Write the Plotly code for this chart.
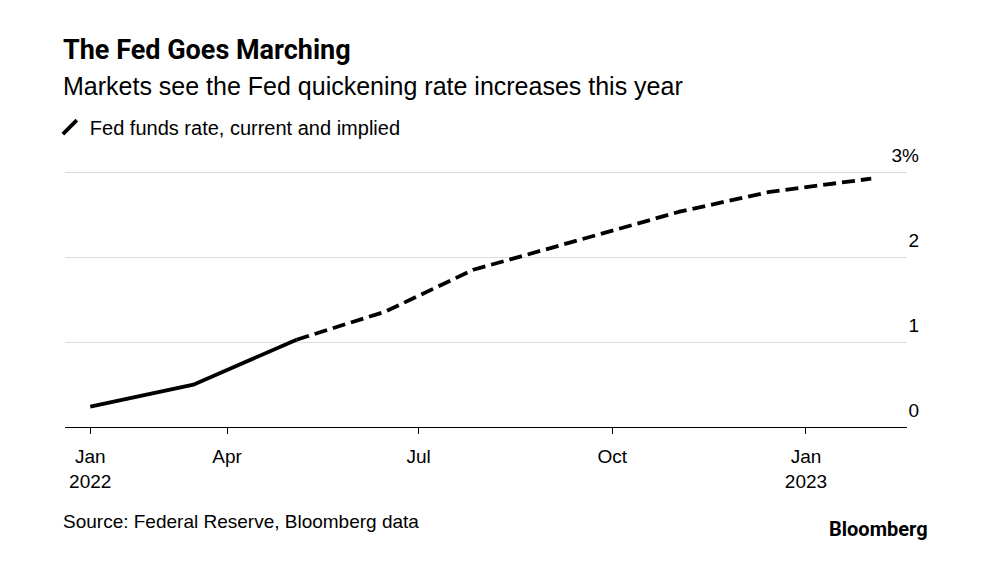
import plotly.graph_objects as go

# ---- data ----
meeting_dates = ["2022-01-26", "2022-03-16", "2022-05-04", "2022-06-15", "2022-07-27",
                 "2022-09-21", "2022-11-02", "2022-12-14", "2023-02-01"]
rate_pct = [0.24, 0.50, 1.03, 1.36, 1.855, 2.24, 2.54, 2.77, 2.93]
is_implied = [False, False, False, True, True, True, True, True, True]

x_tick_vals = ["2022-01-26", "2022-04-01", "2022-07-01", "2022-10-01", "2023-01-01"]
x_tick_text = ["Jan<br>2022", "Apr", "Jul", "Oct", "Jan<br>2023"]
y_tick_vals = [0, 1, 2, 3]
y_tick_text = ["0", "1", "2", "3%"]

title = "The Fed Goes Marching"
subtitle = "Markets see the Fed quickening rate increases this year"
legend_label = "Fed funds rate, current and implied"
source = "Source: Federal Reserve, Bloomberg data"

# split into current (solid) and implied (dashed); share the boundary point
last_current = max(i for i, f in enumerate(is_implied) if not f)
cur_x = meeting_dates[: last_current + 1]
cur_y = rate_pct[: last_current + 1]
imp_x = meeting_dates[last_current:]
imp_y = rate_pct[last_current:]

FONT = "Liberation Sans, Arial, sans-serif"

fig = go.Figure()
fig.add_trace(go.Scatter(x=cur_x, y=cur_y, mode="lines",
                         line=dict(color="#000000", width=3.8),
                         showlegend=False, hoverinfo="skip"))
fig.add_trace(go.Scatter(x=imp_x, y=imp_y, mode="lines",
                         line=dict(color="#000000", width=3.8, dash="13px,6px"),
                         showlegend=False, hoverinfo="skip"))
# legend entry with diagonal stroke icon
fig.add_trace(go.Scatter(x=[None], y=[None], mode="markers", name=legend_label,
                         marker=dict(symbol="line-ne", size=14,
                                     line=dict(color="#000000", width=3.8)),
                         hoverinfo="skip"))

# the page body has an 8px default margin; margins compensate for it
fig.update_layout(
    width=994, height=579,
    paper_bgcolor="#ffffff", plot_bgcolor="#ffffff",
    margin=dict(l=57, r=95, t=163.3, b=159.5),
    font=dict(family=FONT, color="#000000", size=18),
    showlegend=True,
    legend=dict(x=-0.018, xanchor="left", y=1.1715, yanchor="middle",
                orientation="h", bgcolor="rgba(0,0,0,0)",
                font=dict(family=FONT, size=20, color="#000000"),
                itemclick=False, itemdoubleclick=False),
    xaxis=dict(
        type="date",
        range=["2022-01-14", "2023-02-18"],
        tickmode="array", tickvals=x_tick_vals, ticktext=x_tick_text,
        ticks="outside", ticklen=6, tickwidth=1, tickcolor="#000000",
        ticklabelstandoff=6,
        showline=True, linecolor="#000000", linewidth=1.2,
        showgrid=False, zeroline=False,
        tickfont=dict(family=FONT, size=19, color="#000000"),
        fixedrange=True,
    ),
    yaxis=dict(
        range=[0, 3.02],
        side="right",
        tickmode="array", tickvals=y_tick_vals, ticktext=y_tick_text,
        ticklabelposition="inside", ticklabelstandoff=-15, ticklabelshift=-17,
        ticklabeloverflow="allow",
        ticks="", showline=False, zeroline=False,
        showgrid=True, gridcolor="#dcdcdc", gridwidth=1,
        tickfont=dict(family=FONT, size=19, color="#000000"),
        fixedrange=True,
    ),
    annotations=[
        dict(text=f"<b>{title}</b>", xref="paper", yref="paper", x=-0.0045, y=1.4717,
             xanchor="left", yanchor="middle", showarrow=False,
             font=dict(family="Roboto, sans-serif", size=27, color="#000000")),
        dict(text=subtitle, xref="paper", yref="paper", x=-0.0045, y=1.3324,
             xanchor="left", yanchor="middle", showarrow=False,
             font=dict(family=FONT, size=25, color="#000000")),
        dict(text=source, xref="paper", yref="paper", x=-0.0045, y=-0.37,
             xanchor="left", yanchor="middle", showarrow=False,
             font=dict(family=FONT, size=19, color="#000000")),
        dict(text="<b>Bloomberg</b>", xref="paper", yref="paper", x=1.0275, y=-0.40,
             xanchor="right", yanchor="middle", showarrow=False,
             font=dict(family="Roboto, sans-serif", size=20, color="#000000")),
    ],
)

fig.write_html("out.html", config={"displayModeBar": False})
